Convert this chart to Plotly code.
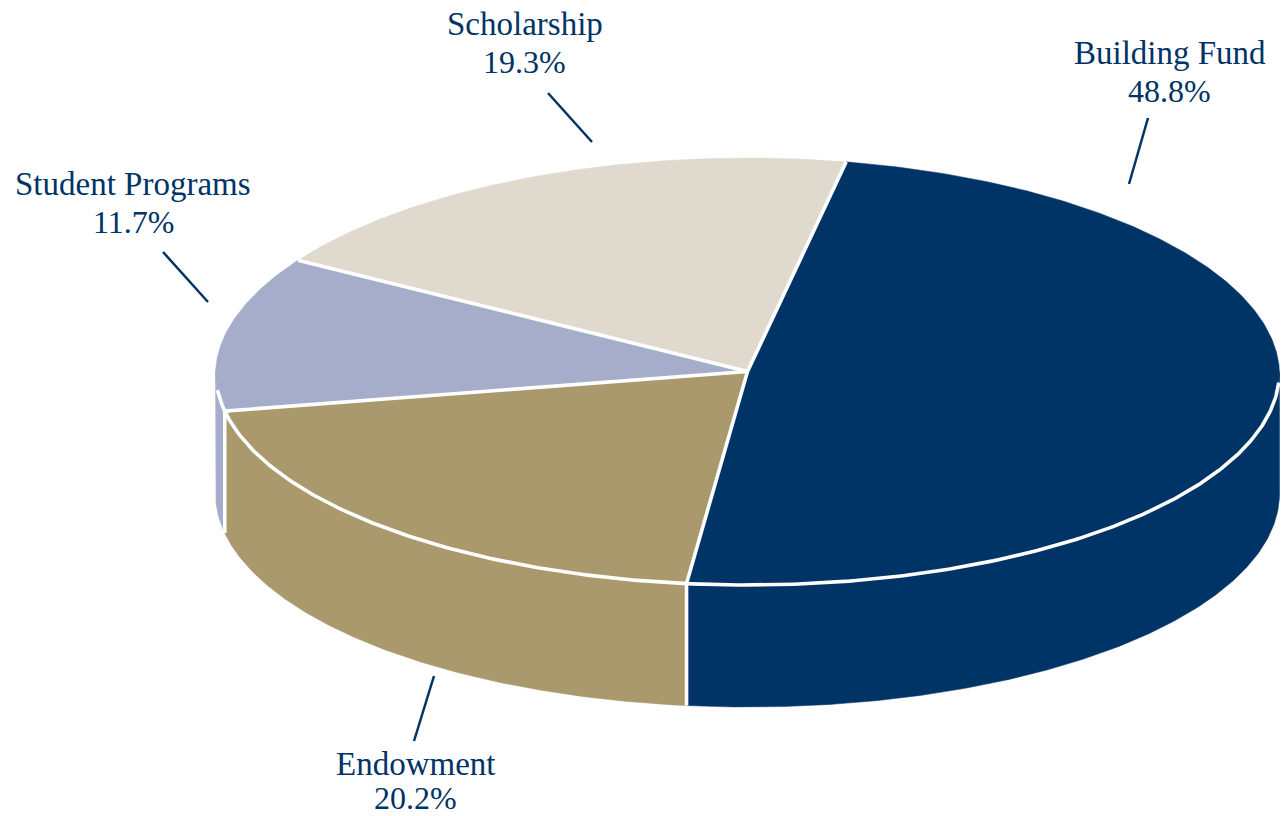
import math
import plotly.graph_objects as go

categories = ["Building Fund", "Endowment", "Student Programs", "Scholarship"]
shares = [48.8, 20.2, 11.7, 19.3]
colors = ["#003366", "#A9996D", "#A5ADCB", "#E0DACE"]

# Drawing geometry, in the hidden axes' pixel-like units
CX, CY, RX, RY, DEPTH = 747.5, 371.5, 532, 213.5, 122
BACK_SHRINK = 0.019
START = 10.9
WHITE = "#FFFFFF"
FONT = "Liberation Serif"
NAVY = "#003366"

# name line y and value line y for each label
label_pos = {
    "Building Fund": (1169.5, 53, 91),
    "Endowment": (415.5, 764, 798),
    "Student Programs": (133, 184, 222),
    "Scholarship": (524.5, 24, 62),
}
leaders = [
    (1148, 118, 1129, 184),
    (434, 676, 414, 741),
    (163, 252, 208, 302),
    (548, 93, 592, 142),
]


def rim(a, dy=0.0):
    r = math.radians(a)
    c = math.cos(r)
    return CX + RX * math.sin(r) * (1 - BACK_SHRINK * max(c, 0)), CY - RY * c + dy


def arc(a0, a1, dy=0.0):
    n = max(2, int(abs(a1 - a0) * 2))
    return [rim(a0 + (a1 - a0) * i / n, dy) for i in range(n + 1)]


total = sum(shares)
bounds = [START]
for s in shares:
    bounds.append(bounds[-1] + s / total * 360)

fig = go.Figure()


def poly(pts, color):
    fig.add_trace(go.Scatter(
        x=[p[0] for p in pts] + [pts[0][0]], y=[p[1] for p in pts] + [pts[0][1]],
        mode="lines", fill="toself", fillcolor=color, line=dict(width=0.5, color=color),
        hoverinfo="skip", showlegend=False))


def stroke(pts, w=3.6):
    fig.add_trace(go.Scatter(
        x=[p[0] for p in pts], y=[p[1] for p in pts], mode="lines",
        line=dict(width=w, color=WHITE), hoverinfo="skip", showlegend=False))


# Side walls: only the front half of the rim (90 to 270 degrees) is visible
for i, c in enumerate(colors):
    a0, a1 = max(bounds[i], 90), min(bounds[i + 1], 270)
    if a1 > a0:
        poly(arc(a0, a1) + arc(a1, a0, DEPTH), c)

# Top faces
for i, c in enumerate(colors):
    poly([(CX, CY)] + arc(bounds[i], bounds[i + 1]), c)

# White separators
stroke(arc(93, 265))
for b in bounds[:-1]:
    stroke([(CX, CY), rim(b)])
    if 90 < b % 360 < 270:
        stroke([rim(b), rim(b, DEPTH)])

for name, share in zip(categories, shares):
    x, y_name, y_value = label_pos[name]
    for text, yy, size in ((name, y_name, 33), (f"{share}%", y_value, 32)):
        fig.add_annotation(x=x, y=yy, text=text, showarrow=False,
                           xanchor="center", yanchor="middle",
                           font=dict(family=FONT, size=size, color=NAVY))

for x0, y0, x1, y1 in leaders:
    fig.add_shape(type="line", x0=x0, y0=y0, x1=x1, y1=y1, line=dict(color=NAVY, width=2.5))

fig.update_layout(
    width=1282, height=816, margin=dict(l=0, r=0, t=0, b=0),
    paper_bgcolor=WHITE, plot_bgcolor=WHITE, showlegend=False,
    xaxis=dict(range=[0, 1282], visible=False, fixedrange=True),
    yaxis=dict(range=[816, 0], visible=False, fixedrange=True),
)
fig.write_html("out.html", config={"displayModeBar": False},
               post_script="document.body.style.margin='0';document.body.style.overflow='hidden';")
